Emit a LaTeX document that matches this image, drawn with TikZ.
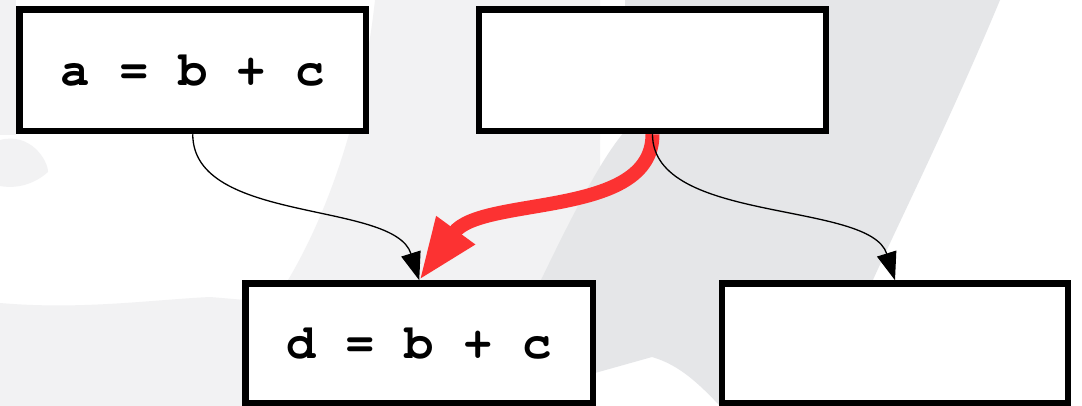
\documentclass[tikz,border=0pt]{standalone}
\usepackage[T1]{fontenc}
\usepackage{courier}
\usetikzlibrary{arrows.meta}
\definecolor{bggray}{RGB}{229,230,232}
\definecolor{bglight}{RGB}{242,242,243}
\definecolor{arrowred}{RGB}{252,50,50}
\tikzset{
  box/.style={draw=black, fill=white, line width=6.5pt, rectangle, inner sep=0pt,
    font=\ttfamily\bfseries\fontsize{49}{59}\selectfont},
  thinarrow/.style={line width=1.3pt, -{Triangle[length=28pt,width=20pt]}},
  redarrow/.style={draw=arrowred, line width=14pt, -{Triangle[length=62pt,width=44pt]}},
}
\begin{document}
\begin{tikzpicture}[x=1pt,y=-1pt]
\useasboundingbox (0,0) rectangle (1082,406);
% background
\fill[white] (0,0) rectangle (1082,406);
\fill[bglight] (375,0) .. controls (362,120) and (325,220) .. (285,285) -- (600,285) -- (600,0) -- cycle;
\fill[bggray] (600,0) -- (1000,0) .. controls (950,120) and (900,220) .. (872,282) -- (720,282) -- (720,406)
  .. controls (700,385) and (680,365) .. (652,357) -- (595,373) -- (595,282) -- (540,282)
  .. controls (570,220) and (600,160) .. (625,131) -- (625,0) -- cycle;
\fill[bglight] (0,0) rectangle (16,135);
\fill[bglight] (0,303) .. controls (80,310) and (150,300) .. (210,297) -- (245,300) -- (245,406) -- (0,406) -- cycle;
\fill[bglight] (0,140) .. controls (30,132) and (48,160) .. (48,172) .. controls (30,188) and (10,188) .. (0,186) -- cycle;
% boxes
\node[box, minimum width=346.5pt, minimum height=121.5pt] (A) at (192.75,70.25) {a = b + c};
\node[box, minimum width=347pt, minimum height=121.5pt] (B) at (652.5,70.25) {};
\node[box, minimum width=347.5pt, minimum height=119.5pt] (C) at (419.25,343.25) {d = b + c};
\node[box, minimum width=346pt, minimum height=119.5pt] (D) at (895,343.25) {};
% connectors
\draw[redarrow] (B.south) .. controls +(0,85) and +(62,-85) .. (C.north);
\draw[thinarrow] (A.south) .. controls +(0,90) and +(-25,-80) .. (C.north);
\draw[thinarrow] (B.south) .. controls +(0,90) and +(-25,-80) .. (D.north);
\end{tikzpicture}
\end{document}
